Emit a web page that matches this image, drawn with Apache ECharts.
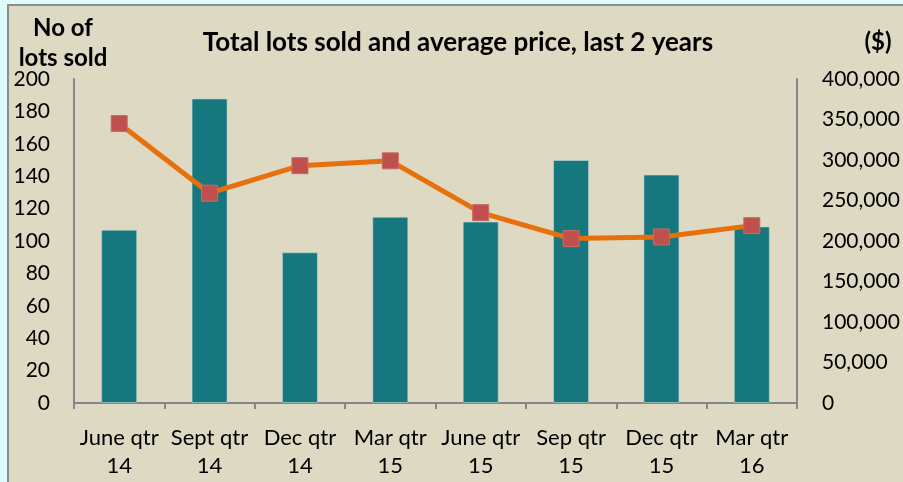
<!DOCTYPE html>
<html>
<head>
<meta charset="utf-8">
<script src="https://cdn.jsdelivr.net/npm/echarts@6/dist/echarts.min.js"></script>
<style>
  html, body { margin: 0; padding: 0; background: #e0fbfd; }
  #chart { width: 903px; height: 482px; }
</style>
</head>
<body>
<div id="chart"></div>
<script>
// quarters
const categories = [
  "June qtr\n14", "Sept qtr\n14", "Dec qtr\n14", "Mar qtr\n15",
  "June qtr\n15", "Sep qtr\n15", "Dec qtr\n15", "Mar qtr\n16"
];
// no of lots sold (left axis)
const lotsSold = [107, 188, 93, 115, 112, 150, 141, 109];
// average price $ (right axis)
const avgPrice = [345000, 259000, 293000, 299000, 235000, 203000, 205000, 219000];

const font = "Lato, 'Open Sans', sans-serif";

const chart = echarts.init(document.getElementById("chart"));

chart.setOption({
  backgroundColor: "transparent",
  animation: false,
  textStyle: { fontFamily: font },
  graphic: [
    {
      type: "rect",
      z: -10,
      shape: { x: 8, y: 5, width: 900, height: 482 },
      style: { fill: "#ddd9c3", stroke: "#8c8c8c", lineWidth: 2 }
    },
    {
      type: "text",
      x: 458, y: 43,
      style: {
        text: "Total lots sold and average price, last 2 years",
        font: "bold 26px " + font, fill: "#000",
        textAlign: "center", textVerticalAlign: "middle"
      }
    },
    {
      type: "text",
      x: 63, y: 28,
      style: {
        text: "No of", font: "bold 24px " + font, fill: "#000",
        textAlign: "center", textVerticalAlign: "middle"
      }
    },
    {
      type: "text",
      x: 63, y: 58,
      style: {
        text: "lots sold", font: "bold 24px " + font, fill: "#000",
        textAlign: "center", textVerticalAlign: "middle"
      }
    },
    {
      type: "text",
      x: 878, y: 42,
      style: {
        text: "($)", font: "bold 24px " + font, fill: "#000",
        textAlign: "center", textVerticalAlign: "middle"
      }
    }
  ],
  grid: { left: 74, right: 106, top: 79, bottom: 79 },
  xAxis: {
    type: "category",
    data: categories,
    axisLine: { lineStyle: { color: "#868686", width: 2 } },
    axisTick: { show: true, length: 6, lineStyle: { color: "#868686", width: 2 } },
    axisLabel: { color: "#000", fontSize: 22, lineHeight: 28, margin: 21, interval: 0 }
  },
  yAxis: [
    {
      type: "value",
      min: 0, max: 200, interval: 20,
      splitLine: { show: false },
      axisLine: { show: true, lineStyle: { color: "#868686", width: 2 } },
      axisTick: { show: false },
      axisLabel: { color: "#000", fontSize: 21, margin: 24 }
    },
    {
      type: "value",
      min: 0, max: 400000, interval: 50000,
      splitLine: { show: false },
      axisLine: { show: true, lineStyle: { color: "#868686", width: 2 } },
      axisTick: { show: false },
      axisLabel: {
        color: "#000", fontSize: 21, margin: 25,
        formatter: v => v.toLocaleString("en-US")
      }
    }
  ],
  series: [
    {
      name: "Lots sold",
      type: "bar",
      data: lotsSold,
      barWidth: 36,
      itemStyle: { color: "#17777f", borderColor: "rgba(190,215,210,0.6)", borderWidth: 1 }
    },
    {
      name: "Average price",
      type: "line",
      yAxisIndex: 1,
      data: avgPrice,
      symbol: "rect",
      symbolSize: 16,
      lineStyle: { color: "#e8700a", width: 5 },
      itemStyle: { color: "#c0504d", borderColor: "#c86a64", borderWidth: 1 }
    }
  ]
});
</script>
</body>
</html>
